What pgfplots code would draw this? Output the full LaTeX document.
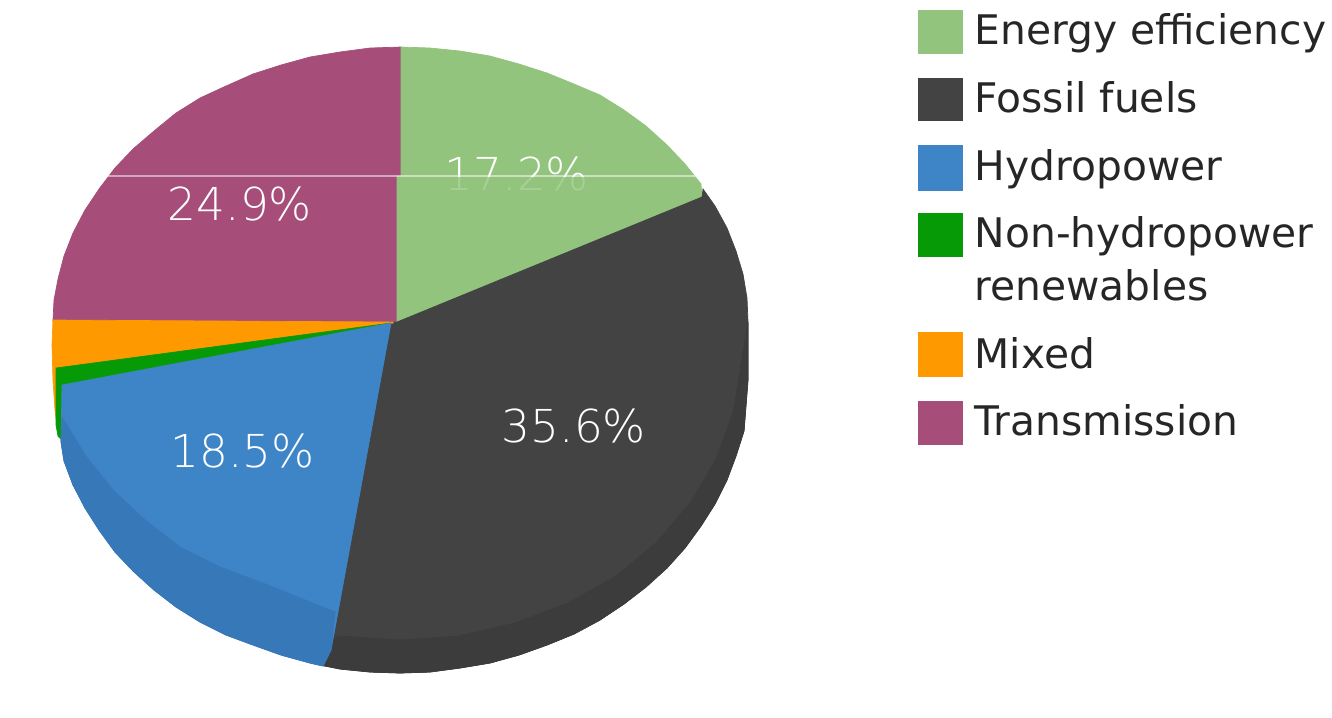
\documentclass[border=0pt]{standalone}
\usepackage{fontspec}
\setmainfont{DejaVu Sans}
\newfontfamily\thinface{DejaVu Sans ExtraLight}
\usepackage{pgfplots}
\pgfplotsset{compat=1.18}
\definecolor{cEff}{HTML}{93C47D}
\definecolor{cFos}{HTML}{434343}
\definecolor{cFosD}{HTML}{3C3C3C}
\definecolor{cHyd}{HTML}{3D85C6}
\definecolor{cHydD}{HTML}{3778B8}
\definecolor{cRen}{HTML}{069A06}
\definecolor{cMix}{HTML}{FF9900}
\definecolor{cTra}{HTML}{A64D79}
\newcommand{\legfont}{\fontsize{11.6}{13}\selectfont}
\newcommand{\pctfont}{\thinface\fontsize{12.9}{14}\selectfont}
\pgfplotsset{slice/.style={fill=#1, draw=#1, line width=0.2pt, forget plot}}
\begin{document}
\begin{tikzpicture}
\begin{axis}[scale only axis, width=13.32cm, height=7.17cm,
  xmin=0, xmax=1332, ymin=0, ymax=717, y dir=reverse, hide axis, clip=false]
\path (axis cs:0,0) (axis cs:1332,717);
% wedges, read off in picture pixels
\addplot[slice=cTra] coordinates {(401,47)(370,48)(340,52)(310,57)(281,65)(253,74)(226,86)(200,98)(176,113)(154,131)(133,149)(115,168)(99,189)(85,210)(73,233)(64,256)(58,279)(54,300)(53,320)(53,322)(397,322)(397,176)(401,176)} --cycle;
\addplot[slice=cEff] coordinates {(401,47)(430,48)(460,51)(490,56)(519,64)(547,73)(574,84)(600,95)(624,110)(646,126)(667,145)(685,164)(701,184)(702,198)(397,322)(397,176)(401,176)} --cycle;
\addplot[slice=cFos] coordinates {(397,322)(702,197)(703,189)(715,206)(727,228)(736,251)(743,274)(747,298)(748,322)(748,380)(744,431)(736,456)(727,480)(715,504)(701,526)(685,548)(667,568)(646,587)(624,604)(600,620)(574,634)(547,645)(519,655)(490,663)(460,668)(430,672)(400,673)(370,672)(340,669)(320,665)(320,650)(385,323)} --cycle;
\addplot[slice=cFosD] coordinates {(748,322)(741,365)(733,413)(716,459)(691,502)(657,542)(616,576)(568,603)(515,623)(458,636)(400,640)(342,636)(320,640)(320,665)(340,669)(370,672)(400,673)(430,672)(460,668)(490,663)(519,655)(547,645)(574,634)(600,620)(624,604)(646,587)(667,568)(685,548)(701,526)(715,504)(727,480)(736,456)(744,431)(748,380)} --cycle;
\addplot[slice=cMix] coordinates {(393,322)(53,320)(52,345)(53,380)(55,410)(57,426)(59,385)(393,323)} --cycle;
\addplot[slice=cRen] coordinates {(391,323)(56,368)(56,425)(58,436)(62,440)(63,386)} --cycle;
\addplot[slice=cHyd] coordinates {(391,323)(62,385)(61,442)(64,461)(73,485)(85,508)(99,530)(115,552)(133,571)(154,590)(176,607)(200,622)(226,635)(253,645)(281,655)(310,663)(323,666)(331,650)} --cycle;
\addplot[slice=cHydD] coordinates {(62,417)(85,455)(113,490)(145,520)(180,547)(220,567)(263,583)(335,612)(331,650)(323,666)(310,663)(281,655)(253,645)(226,635)(200,622)(176,607)(154,590)(133,571)(115,552)(99,530)(85,508)(73,485)(64,461)(61,442)} --cycle;
% the pale scan seam across the top of the pie
\addplot[white, opacity=0.5, line width=0.3pt, forget plot] coordinates {(108,176)(702,176)};
% legend swatches
\addplot[slice=cEff] coordinates {(918,10)(962,10)(962,53)(918,53)} --cycle;
\addplot[slice=cFos] coordinates {(918,78)(962,78)(962,120)(918,120)} --cycle;
\addplot[slice=cHyd] coordinates {(918,145)(962,145)(962,190)(918,190)} --cycle;
\addplot[slice=cRen] coordinates {(918,213)(962,213)(962,256)(918,256)} --cycle;
\addplot[slice=cMix] coordinates {(918,332)(962,332)(962,376)(918,376)} --cycle;
\addplot[slice=cTra] coordinates {(918,401)(962,401)(962,444)(918,444)} --cycle;
% percentages
\node[white, font=\pctfont, anchor=base, inner sep=0pt] at (axis cs:240,220) {24.9\%};
\node[white, font=\pctfont, anchor=base, inner sep=0pt] at (axis cs:517,190) {17.2\%};
\node[white, font=\pctfont, anchor=base, inner sep=0pt] at (axis cs:574,442) {35.6\%};
\node[white, font=\pctfont, anchor=base, inner sep=0pt] at (axis cs:242.5,467) {18.5\%};
% the lower part of 17.2% is lost in the reference
\addplot[fill=cEff, draw=none, opacity=0.8, forget plot] coordinates {(440,177)(596,177)(596,195)(440,195)} --cycle;
% legend text
\node[black!85, font=\legfont, anchor=base west, inner sep=0pt] at (axis cs:974,44) {Energy efficiency};
\node[black!85, font=\legfont, anchor=base west, inner sep=0pt] at (axis cs:974,112) {Fossil fuels};
\node[black!85, font=\legfont, anchor=base west, inner sep=0pt] at (axis cs:974,180) {Hydropower};
\node[black!85, font=\legfont, anchor=base west, inner sep=0pt] at (axis cs:974,247) {Non-hydropower};
\node[black!85, font=\legfont, anchor=base west, inner sep=0pt] at (axis cs:974,300) {renewables};
\node[black!85, font=\legfont, anchor=base west, inner sep=0pt] at (axis cs:974,368) {Mixed};
\node[black!85, font=\legfont, anchor=base west, inner sep=0pt] at (axis cs:974,435) {Transmission};
\end{axis}
\end{tikzpicture}
\end{document}
